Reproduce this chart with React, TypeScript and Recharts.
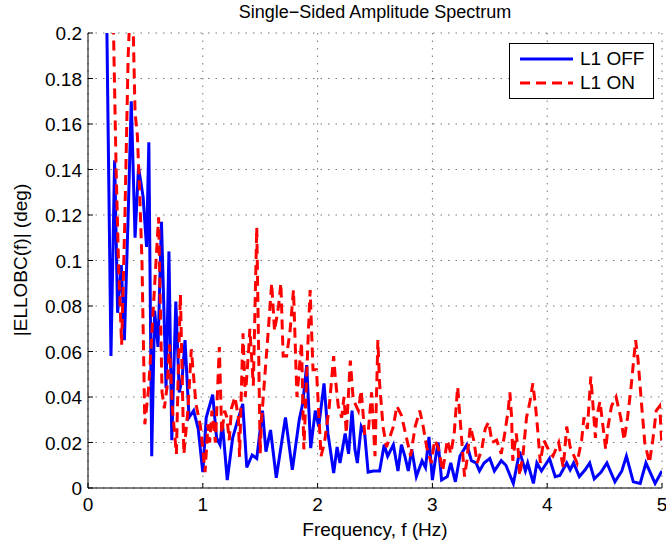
import { CartesianGrid, Legend, Line, LineChart, XAxis, YAxis } from 'recharts';

const FONT = '"Liberation Sans", Arial, Helvetica, sans-serif';

const X_TICKS = [0, 1, 2, 3, 4, 5];
const Y_TICKS = [0, 0.02, 0.04, 0.06, 0.08, 0.1, 0.12, 0.14, 0.16, 0.18, 0.2];

// [frequency Hz, amplitude deg]
const L1_OFF = [
  [0.15, 0.26], [0.2, 0.058], [0.232, 0.144], [0.258, 0.077], [0.29, 0.098], [0.317, 0.065],
  [0.35, 0.12], [0.377, 0.17], [0.41, 0.11], [0.44, 0.141], [0.48, 0.128], [0.51, 0.106],
  [0.53, 0.152], [0.555, 0.014], [0.58, 0.078], [0.61, 0.062], [0.64, 0.117], [0.68, 0.044],
  [0.705, 0.104], [0.73, 0.021], [0.765, 0.082], [0.795, 0.042], [0.82, 0.048], [0.845, 0.065],
  [0.88, 0.031], [0.92, 0.034], [0.96, 0.026], [1.0, 0.007], [1.03, 0.031], [1.086, 0.041],
  [1.12, 0.022], [1.15, 0.019], [1.17, 0.029], [1.213, 0.0035], [1.26, 0.022], [1.294, 0.028],
  [1.348, 0.037], [1.383, 0.009], [1.43, 0.0145], [1.47, 0.013], [1.52, 0.034], [1.55, 0.016],
  [1.59, 0.0255], [1.64, 0.0045], [1.72, 0.031], [1.78, 0.008], [1.84, 0.03], [1.87, 0.037],
  [1.905, 0.054], [1.94, 0.0175], [1.98, 0.034], [2.01, 0.027], [2.056, 0.046], [2.09, 0.024],
  [2.14, 0.0066], [2.17, 0.018], [2.195, 0.011], [2.24, 0.024], [2.27, 0.015], [2.3, 0.034],
  [2.325, 0.017], [2.346, 0.011], [2.38, 0.027], [2.41, 0.024], [2.44, 0.007], [2.486, 0.0075],
  [2.54, 0.0075], [2.58, 0.019], [2.61, 0.014], [2.66, 0.019], [2.7, 0.0075], [2.73, 0.019],
  [2.76, 0.014], [2.79, 0.0075], [2.82, 0.017], [2.86, 0.005], [2.91, 0.012], [2.94, 0.009],
  [2.97, 0.0225], [3.0, 0.0035], [3.03, 0.014], [3.05, 0.02], [3.08, 0.0035], [3.13, 0.005],
  [3.16, 0.011], [3.2, 0.0027], [3.24, 0.014], [3.3, 0.019], [3.34, 0.012], [3.38, 0.011],
  [3.41, 0.0075], [3.45, 0.011], [3.5, 0.013], [3.54, 0.0075], [3.6, 0.012], [3.64, 0.01],
  [3.705, 0.002], [3.76, 0.016], [3.81, 0.0075], [3.83, 0.011], [3.88, 0.002], [3.91, 0.011],
  [3.95, 0.0075], [4.02, 0.013], [4.07, 0.005], [4.11, 0.0055], [4.17, 0.011], [4.2, 0.008],
  [4.23, 0.011], [4.28, 0.005], [4.33, 0.008], [4.37, 0.011], [4.41, 0.004], [4.47, 0.007],
  [4.52, 0.011], [4.59, 0.0027], [4.65, 0.0075], [4.69, 0.014], [4.75, 0.0027], [4.81, 0.002],
  [4.86, 0.011], [4.94, 0.002], [5.0, 0.0075],
];

const L1_ON = [
  [0.2, 0.26], [0.245, 0.14], [0.265, 0.1], [0.293, 0.063], [0.32, 0.116], [0.35, 0.19],
  [0.37, 0.215], [0.39, 0.21], [0.41, 0.165], [0.43, 0.155], [0.45, 0.13], [0.47, 0.1],
  [0.495, 0.028], [0.53, 0.045], [0.57, 0.08], [0.615, 0.119], [0.645, 0.042], [0.665, 0.035],
  [0.69, 0.045], [0.71, 0.063], [0.735, 0.035], [0.77, 0.015], [0.785, 0.048], [0.805, 0.085],
  [0.835, 0.015], [0.87, 0.034], [0.9, 0.061], [0.94, 0.037], [0.98, 0.027], [1.02, 0.007],
  [1.045, 0.028], [1.06, 0.02], [1.08, 0.034], [1.11, 0.02], [1.144, 0.062], [1.165, 0.024],
  [1.19, 0.034], [1.21, 0.031], [1.23, 0.021], [1.25, 0.035], [1.28, 0.04], [1.31, 0.031],
  [1.32, 0.0137], [1.35, 0.068], [1.37, 0.04], [1.4, 0.061], [1.41, 0.07], [1.44, 0.045],
  [1.47, 0.1145], [1.5, 0.0153], [1.51, 0.0287], [1.54, 0.049], [1.57, 0.069], [1.6, 0.09],
  [1.625, 0.069], [1.66, 0.08], [1.68, 0.09], [1.7, 0.058], [1.73, 0.058], [1.76, 0.069],
  [1.79, 0.087], [1.82, 0.04], [1.86, 0.064], [1.88, 0.017], [1.92, 0.069], [1.935, 0.087],
  [1.96, 0.052], [1.99, 0.052], [2.03, 0.014], [2.06, 0.02], [2.1, 0.035], [2.14, 0.058],
  [2.155, 0.048], [2.18, 0.036], [2.21, 0.031], [2.23, 0.04], [2.25, 0.024], [2.285, 0.056],
  [2.31, 0.039], [2.355, 0.034], [2.38, 0.043], [2.41, 0.024], [2.44, 0.024], [2.47, 0.042],
  [2.5, 0.014], [2.525, 0.065], [2.54, 0.046], [2.57, 0.027], [2.6, 0.018], [2.66, 0.027],
  [2.69, 0.036], [2.73, 0.032], [2.77, 0.023], [2.81, 0.014], [2.85, 0.027], [2.89, 0.034],
  [2.92, 0.027], [2.95, 0.018], [2.99, 0.011], [3.02, 0.021], [3.05, 0.018], [3.09, 0.0075],
  [3.13, 0.021], [3.16, 0.015], [3.19, 0.024], [3.22, 0.0445], [3.26, 0.018], [3.28, 0.005],
  [3.3, 0.012], [3.33, 0.027], [3.36, 0.021], [3.39, 0.011], [3.43, 0.017], [3.46, 0.026],
  [3.49, 0.029], [3.52, 0.02], [3.56, 0.021], [3.6, 0.015], [3.63, 0.024], [3.66, 0.034],
  [3.675, 0.042], [3.69, 0.031], [3.7, 0.012], [3.73, 0.024], [3.75, 0.015], [3.76, 0.0055],
  [3.79, 0.015], [3.82, 0.031], [3.85, 0.038], [3.875, 0.046], [3.9, 0.035], [3.92, 0.024],
  [3.94, 0.011], [3.97, 0.021], [4.0, 0.018], [4.03, 0.015], [4.05, 0.014], [4.1, 0.02],
  [4.14, 0.009], [4.17, 0.027], [4.2, 0.018], [4.26, 0.011], [4.3, 0.021], [4.32, 0.031],
  [4.35, 0.026], [4.38, 0.049], [4.42, 0.022], [4.43, 0.031], [4.46, 0.038], [4.51, 0.017],
  [4.53, 0.027], [4.56, 0.036], [4.6, 0.04], [4.64, 0.031], [4.67, 0.021], [4.7, 0.031],
  [4.73, 0.044], [4.77, 0.065], [4.79, 0.057], [4.82, 0.038], [4.85, 0.02], [4.89, 0.011],
  [4.92, 0.021], [4.95, 0.034], [4.98, 0.036], [5.0, 0.018],
];

const offData = L1_OFF.map(([f, a]) => ({ f, a }));
const onData = L1_ON.map(([f, a]) => ({ f, a }));

const TICK_LEN = 5;
const FONT_SIZE = 19;

// MATLAB-style ticks point into the axes box
function BottomTick({ x, y, payload }: any) {
  return (
    <g>
      <line x1={x} x2={x} y1={y} y2={y - TICK_LEN} stroke="#000" />
      <text x={x} y={y + 23} textAnchor="middle" fontSize={FONT_SIZE} fontFamily={FONT} fill="#000">
        {String(payload.value)}
      </text>
    </g>
  );
}

function TopTick({ x, y }: any) {
  return <line x1={x} x2={x} y1={y} y2={y + TICK_LEN} stroke="#000" />;
}

function LeftTick({ x, y, payload }: any) {
  return (
    <g>
      <line x1={x} x2={x + TICK_LEN} y1={y} y2={y} stroke="#000" />
      <text x={x - 6} y={y + 7} textAnchor="end" fontSize={FONT_SIZE} fontFamily={FONT} fill="#000">
        {String(payload.value)}
      </text>
    </g>
  );
}

function RightTick({ x, y }: any) {
  return <line x1={x} x2={x - TICK_LEN} y1={y} y2={y} stroke="#000" />;
}

function LegendBox({ payload }: any) {
  return (
    <div
      style={{
        border: '1px solid #000',
        background: '#fff',
        width: 145,
        height: 56,
        boxSizing: 'border-box',
        padding: '3px 0 0 10px',
        fontFamily: FONT,
        fontSize: FONT_SIZE,
      }}
    >
      {(payload ?? []).map((entry: any) => (
        <div key={entry.value} style={{ display: 'flex', alignItems: 'center', height: 24 }}>
          <svg width={54} height={10} style={{ marginRight: 6 }}>
            <line
              x1={0}
              x2={53}
              y1={5}
              y2={5}
              stroke={entry.color}
              strokeWidth={3}
              strokeDasharray={entry.payload?.strokeDasharray}
            />
          </svg>
          <span>{entry.value}</span>
        </div>
      ))}
    </div>
  );
}

export default function App() {
  return (
    <div style={{ position: 'relative', width: 666, height: 548, background: '#fff', fontFamily: FONT }}>
      <style>{'body{margin:0}'}</style>
      <div
        style={{
          position: 'absolute',
          top: 0,
          left: 88,
          width: 574,
          textAlign: 'center',
          fontSize: 18,
          lineHeight: '24px',
        }}
      >
        Single−Sided Amplitude Spectrum
      </div>
      <div
        style={{
          position: 'absolute',
          top: 518,
          left: 88,
          width: 574,
          textAlign: 'center',
          fontSize: FONT_SIZE,
          lineHeight: '24px',
        }}
      >
        Frequency, f (Hz)
      </div>
      <div
        style={{
          position: 'absolute',
          left: 21,
          top: 260,
          transform: 'translate(-50%, -50%) rotate(-90deg)',
          whiteSpace: 'nowrap',
          fontSize: FONT_SIZE,
          lineHeight: '24px',
        }}
      >
        |ELLOBC(f)| (deg)
      </div>
      <LineChart
        width={666}
        height={548}
        margin={{ top: 33, right: 4, bottom: 0, left: 0 }}
        style={{ position: 'absolute', top: 0, left: 0 }}
      >
        <CartesianGrid stroke="#777" strokeDasharray="1.5 6" ticks={undefined} />
        <XAxis
          type="number"
          dataKey="f"
          domain={[0, 5]}
          ticks={X_TICKS}
          allowDataOverflow
          height={60}
          tickSize={0}
          tickMargin={0}
          tickLine={false}
          axisLine={{ stroke: '#000' }}
          tick={BottomTick}
          interval={0}
        />
        <XAxis
          xAxisId="top"
          orientation="top"
          type="number"
          dataKey="f"
          domain={[0, 5]}
          ticks={X_TICKS}
          allowDataOverflow
          height={0}
          tickSize={0}
          tickMargin={0}
          tickLine={false}
          axisLine={{ stroke: '#000' }}
          tick={TopTick}
          interval={0}
        />
        <YAxis
          type="number"
          domain={[0, 0.2]}
          ticks={Y_TICKS}
          allowDataOverflow
          width={88}
          tickSize={0}
          tickMargin={0}
          tickLine={false}
          axisLine={{ stroke: '#000' }}
          tick={LeftTick}
          interval={0}
        />
        <YAxis
          yAxisId="right"
          orientation="right"
          type="number"
          domain={[0, 0.2]}
          ticks={Y_TICKS}
          allowDataOverflow
          width={0}
          tickSize={0}
          tickMargin={0}
          tickLine={false}
          axisLine={{ stroke: '#000' }}
          tick={RightTick}
          interval={0}
        />
        <Legend
          layout="horizontal"
          verticalAlign="middle"
          align="center"
          content={LegendBox}
          wrapperStyle={{ top: 43, left: 509, width: 145 }}
        />
        <Line
          data={offData}
          dataKey="a"
          name="L1 OFF"
          type="linear"
          stroke="#0000ff"
          strokeWidth={3}
          dot={false}
          isAnimationActive={false}
        />
        <Line
          data={onData}
          dataKey="a"
          name="L1 ON"
          type="linear"
          stroke="#ff0000"
          strokeWidth={3}
          strokeDasharray="10 6"
          dot={false}
          isAnimationActive={false}
        />
      </LineChart>
    </div>
  );
}
